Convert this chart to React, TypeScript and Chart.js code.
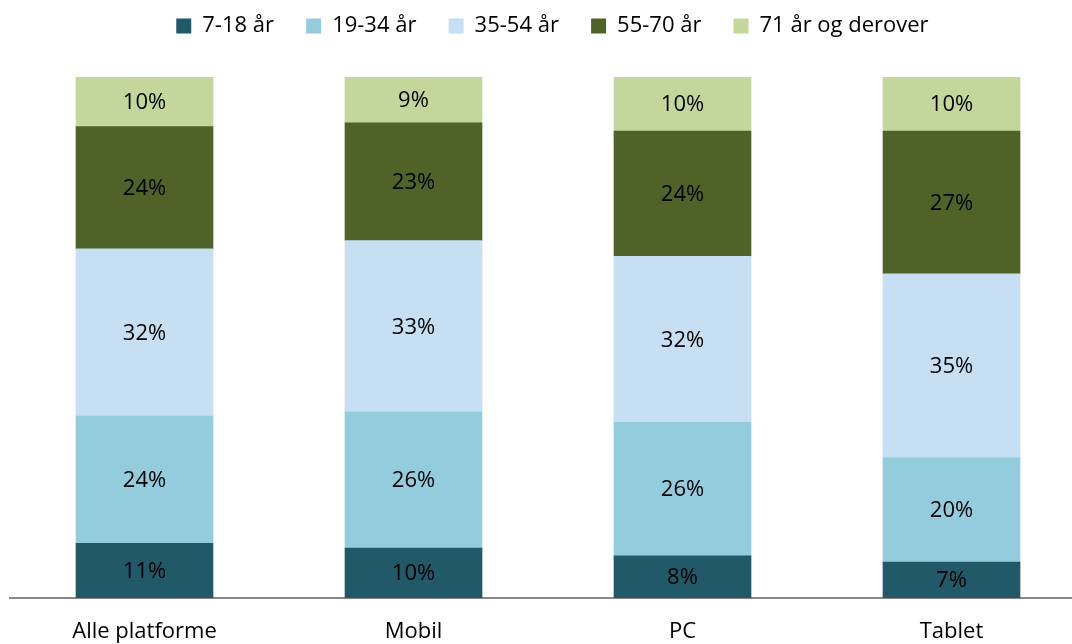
import React, { useEffect, useRef } from "react";
import { Chart, registerables } from "chart.js";

Chart.register(...registerables);

const categories = ["Alle platforme", "Mobil", "PC", "Tablet"];
const seriesNames = ["7-18 år", "19-34 år", "35-54 år", "55-70 år", "71 år og derover"];
const age7to18 = [10.5, 9.6, 8.1, 6.9];
const age19to34 = [24.4, 26.1, 25.6, 20.0];
const age35to54 = [32.1, 32.9, 31.9, 35.3];
const age55to70 = [23.5, 22.6, 24.0, 27.4];
const age71plus = [9.5, 8.8, 10.4, 10.4];
const seriesColors = ["#215968", "#93CDDD", "#C6DFF2", "#4F6228", "#C3D69B"];

const FONT = "'Open Sans', Lato, sans-serif";

const valueLabels = {
  id: "valueLabels",
  afterDatasetsDraw(chart: any) {
    const ctx = chart.ctx;
    ctx.save();
    ctx.font = `22px ${FONT}`;
    ctx.fillStyle = "#000000";
    ctx.textAlign = "center";
    ctx.textBaseline = "middle";
    chart.data.datasets.forEach((ds: any, i: number) => {
      const meta = chart.getDatasetMeta(i);
      meta.data.forEach((bar: any, j: number) => {
        const y = (bar.y + bar.base) / 2;
        ctx.fillText(Math.round(ds.data[j]) + "%", bar.x, y + 1);
      });
    });
    ctx.restore();
  },
};

const legendSpacing = {
  id: "legendSpacing",
  beforeInit(chart: any) {
    const orig = chart.legend.fit;
    chart.legend.fit = function () {
      orig.call(this);
      this.height += 30;
    };
  },
  afterLayout(chart: any) {
    chart.legend.left += 13;
    chart.legend.right += 13;
  },
};

export default function App() {
  const ref = useRef<HTMLCanvasElement>(null);
  useEffect(() => {
    const all = [age7to18, age19to34, age35to54, age55to70, age71plus];
    const chart = new Chart(ref.current!, {
      type: "bar",
      data: {
        labels: categories,
        datasets: all.map((d, i) => ({
          label: seriesNames[i],
          data: d,
          backgroundColor: seriesColors[i],
          borderWidth: 0,
          barThickness: 137,
        })),
      },
      options: {
        responsive: false,
        animation: false,
        layout: { padding: { left: 10, right: 14, top: 0, bottom: 0 } },
        plugins: {
          tooltip: { enabled: false },
          legend: {
            position: "top",
            labels: {
              font: { family: FONT, size: 22 },
              color: "#000000",
              boxWidth: 15,
              boxHeight: 15,
              padding: 15,
              generateLabels: (c: any) =>
                c.data.datasets.map((ds: any, i: number) => ({
                  text: ds.label + "   ",
                  fillStyle: ds.backgroundColor,
                  strokeStyle: ds.backgroundColor,
                  lineWidth: 0,
                  datasetIndex: i,
                  hidden: false,
                })),
            },
          },
        },
        scales: {
          x: {
            stacked: true,
            grid: { display: false, drawTicks: false },
            border: { display: true, color: "#888888", width: 2 },
            ticks: { font: { family: FONT, size: 22 }, color: "#000000", padding: 21 },
            afterFit: (scale: any) => {
              scale.height = 46;
            },
          },
          y: {
            stacked: true,
            display: false,
            min: 0,
            max: 100,
          },
        },
      },
      plugins: [valueLabels, legendSpacing],
    });
    return () => chart.destroy();
  }, []);
  return (
    <div style={{ position: "fixed", left: 0, top: 0, width: 1072, height: 644, overflow: "hidden", background: "#fff" }}>
      <canvas ref={ref} width={1100} height={644} style={{ width: 1100, height: 644, display: "block" }} />
    </div>
  );
}
